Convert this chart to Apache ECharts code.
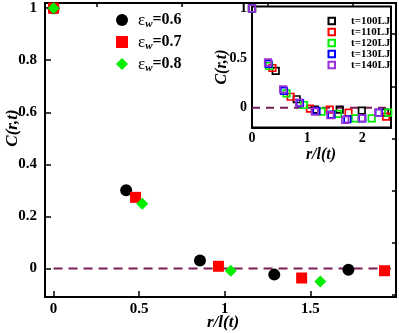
<!DOCTYPE html>
<html>
<head>
<meta charset="utf-8">
<script src="https://cdn.jsdelivr.net/npm/echarts@6/dist/echarts.min.js"></script>
<style>
  html, body { margin: 0; padding: 0; background: #fff; }
  #chart { width: 399px; height: 333px; }
</style>
</head>
<body>
<div id="chart"></div>
<script>
// main panel: C(r,t) vs r/l(t) for three wetting strengths
var epsNames = ["0.6", "0.7", "0.8"];
var eps06 = [[0, 1], [0.424, 0.30], [0.855, 0.03], [1.289, -0.024], [1.722, -0.005]];
var eps07 = [[0, 1], [0.479, 0.273], [0.963, 0.008], [1.449, -0.037], [1.933, -0.009]];
var eps08 = [[0, 1], [0.518, 0.248], [1.035, -0.009], [1.558, -0.05]];
var mainZero = [[0, 0], [1.97, 0]];
var mainYTicks = [0, 0.2, 0.4, 0.6, 0.8, 1];
var mainYMinor = [-0.1, 0.1, 0.3, 0.5, 0.7, 0.9];
var mainXTicks = [0, 0.5, 1, 1.5];
var mainXMinor = [0.25, 0.75, 1.25, 1.75];

// inset: several times for one case
var timeNames = ["t=100LJ", "t=110LJ", "t=120LJ", "t=130LJ", "t=140LJ"];
var t100 = [[0, 1], [0.43, 0.37], [0.81, 0.085], [1.14, -0.02], [1.59, -0.02], [1.99, -0.03], [2.41, -0.05]];
var t110 = [[0, 1], [0.37, 0.40], [0.70, 0.11], [1.05, -0.01], [1.41, -0.02], [1.75, -0.05], [2.43, -0.09]];
var t120 = [[0, 1], [0.31, 0.42], [0.625, 0.145], [0.94, 0.027], [1.26, -0.04], [1.56, -0.063], [1.87, -0.107], [2.17, -0.107], [2.47, -0.05]];
var t130 = [[0, 1], [0.30, 0.44], [0.58, 0.17], [0.87, 0.045], [1.17, -0.033], [1.44, -0.07], [1.73, -0.117], [2.0, -0.107], [2.30, -0.05]];
var t140 = [[0, 1], [0.29, 0.457], [0.565, 0.185], [0.855, 0.05], [1.14, -0.04], [1.42, -0.075], [1.69, -0.124], [1.99, -0.107], [2.29, -0.05]];
var insetZero = [[0, 0], [2.52, 0]];
var insetYTicks = [0, 0.5, 1];
var insetYMinor = [0.25, 0.75];
var insetXTicks = [0, 1, 2];
var insetXMinor = [0.5, 1.5];

var serif = "Liberation Serif";
var dashColor = "#781d55";
var timeColors = ["#000000", "#ff0000", "#00ee00", "#0000ff", "#9a2fd8"];

function majorAxis(grid, min, max, ticks, fs) {
  return {
    type: "value", gridIndex: grid, min: min, max: max,
    splitLine: { show: false },
    axisLine: { show: true, onZero: false, lineStyle: { color: "#000", width: 2 } },
    axisTick: { inside: true, length: 6, customValues: ticks, lineStyle: { color: "#000", width: 1.5 } },
    axisLabel: { customValues: ticks, color: "#000", fontFamily: serif, fontWeight: "bold", fontSize: fs, margin: 6 }
  };
}
function minorAxis(grid, min, max, ticks) {
  return {
    type: "value", gridIndex: grid, min: min, max: max,
    splitLine: { show: false },
    axisLine: { show: false, onZero: false },
    axisTick: { show: true, inside: true, length: 4, customValues: ticks, lineStyle: { color: "#000", width: 1.5 } },
    axisLabel: { show: false }
  };
}

var xMain = majorAxis(0, -0.05, 2.0, mainXTicks, 15);
xMain.axisLabel.margin = 5;
var yMain = majorAxis(0, -0.11, 1.02, mainYTicks, 15);
yMain.axisLabel.margin = 8;
var xIn = majorAxis(1, 0, 2.52, insetXTicks, 14);
xIn.axisLabel.margin = 4;
var yIn = majorAxis(1, -0.2, 1.02, insetYTicks, 14);
yIn.axisLabel.margin = 5;

function timeSeries(name, data, color) {
  return {
    name: name, type: "scatter", xAxisIndex: 2, yAxisIndex: 2, data: data,
    symbol: "rect", symbolSize: 6.5, z: 5,
    itemStyle: { color: "rgba(0,0,0,0)", borderColor: color, borderWidth: 1.7, opacity: 1 }
  };
}

var chart = echarts.init(document.getElementById("chart"));
chart.setOption({
  animation: false,
  backgroundColor: "#fff",
  grid: [
    { left: 45, top: 3, right: 3, bottom: 36, show: true, borderColor: "#000", borderWidth: 2 },
    { left: 252, top: 6.5, right: 8, bottom: 205.5, show: true, borderColor: "#000", borderWidth: 2, backgroundColor: "#fff", z: 3 }
  ],
  xAxis: [xMain, minorAxis(0, -0.05, 2.0, mainXMinor), xIn, minorAxis(1, 0, 2.52, insetXMinor)],
  yAxis: [yMain, minorAxis(0, -0.11, 1.02, mainYMinor), yIn, minorAxis(1, -0.2, 1.02, insetYMinor)],
  legend: [
    {
      orient: "vertical", left: 111, top: 7, itemWidth: 12, itemHeight: 12, itemGap: 4,
      data: [
        { name: epsNames[0], icon: "circle" },
        { name: epsNames[1], icon: "rect" },
        { name: epsNames[2], icon: "diamond" }
      ],
      formatter: function (n) { return "{e|ε}{w|w}{v|=" + n + "}"; },
      textStyle: {
        padding: [0, 0, 0, 5],
        rich: {
          e: { fontFamily: serif, fontSize: 17, lineHeight: 16, verticalAlign: "top", color: "#000" },
          w: { fontFamily: serif, fontSize: 11, fontStyle: "italic", fontWeight: "bold", lineHeight: 11, padding: [7, 0, 0, 0], verticalAlign: "top", color: "#000" },
          v: { fontFamily: serif, fontSize: 16, fontWeight: "bold", lineHeight: 16, verticalAlign: "top", color: "#000" }
        }
      }
    },
    {
      orient: "vertical", left: 322.5, top: 10.5, itemWidth: 6.5, itemHeight: 6.5, itemGap: 0,
      data: timeNames,
      textStyle: { fontFamily: serif, fontWeight: "bold", fontSize: 11, lineHeight: 9.2, color: "#000", padding: [0, 0, 0, 11] }
    }
  ],
  graphic: [
    { type: "text", x: 13, y: 128, rotation: Math.PI / 2, style: { text: "C(r,t)", fontFamily: serif, fontWeight: "bold", fontStyle: "italic", fontSize: 17, fill: "#000", align: "center", verticalAlign: "middle" } },
    { type: "text", x: 223, y: 323, style: { text: "r/l(t)", fontFamily: serif, fontWeight: "bold", fontStyle: "italic", fontSize: 17, fill: "#000", align: "center", verticalAlign: "middle" } },
    { type: "text", x: 222, y: 67, z: 10, rotation: Math.PI / 2, style: { text: "C(r,t)", fontFamily: serif, fontWeight: "bold", fontStyle: "italic", fontSize: 16, fill: "#000", align: "center", verticalAlign: "middle" } },
    { type: "text", x: 321, y: 155, z: 10, style: { text: "r/l(t)", fontFamily: serif, fontWeight: "bold", fontStyle: "italic", fontSize: 16, fill: "#000", align: "center", verticalAlign: "middle" } }
  ],
  series: [
    { type: "line", xAxisIndex: 0, yAxisIndex: 0, data: mainZero, symbol: "none", z: 1,
      lineStyle: { color: dashColor, width: 2, type: [9, 6] } },
    { name: epsNames[0], type: "scatter", xAxisIndex: 0, yAxisIndex: 0, data: eps06, symbol: "circle", symbolSize: 12, itemStyle: { color: "#000", opacity: 1 } },
    { name: epsNames[1], type: "scatter", xAxisIndex: 0, yAxisIndex: 0, data: eps07, symbol: "rect", symbolSize: 11, itemStyle: { color: "#ff0000", opacity: 1 } },
    { name: epsNames[2], type: "scatter", xAxisIndex: 0, yAxisIndex: 0, data: eps08, symbol: "diamond", symbolSize: 12, itemStyle: { color: "#00ee00", opacity: 1 } },
    { type: "line", xAxisIndex: 2, yAxisIndex: 2, data: insetZero, symbol: "none", z: 4,
      lineStyle: { color: dashColor, width: 2, type: [8, 6] } },
    timeSeries(timeNames[0], t100, timeColors[0]),
    timeSeries(timeNames[1], t110, timeColors[1]),
    timeSeries(timeNames[2], t120, timeColors[2]),
    timeSeries(timeNames[3], t130, timeColors[3]),
    timeSeries(timeNames[4], t140, timeColors[4])
  ]
});
</script>
</body>
</html>
